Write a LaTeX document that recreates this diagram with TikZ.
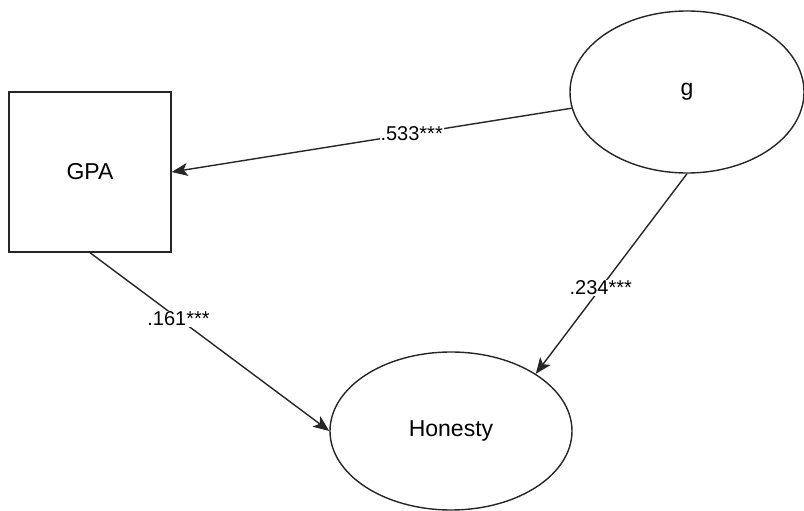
\documentclass[tikz,border=0pt]{standalone}
\usepackage{fontspec}
\setmainfont{Liberation Sans}
\usetikzlibrary{shapes.geometric,arrows.meta}
\tikzset{
  box/.style={draw=black!85, line width=1.4pt, minimum width=162pt, minimum height=160pt, inner sep=0pt, font=\fontsize{23}{26}\selectfont},
  oval/.style={draw=black!85, line width=1.4pt, ellipse, inner sep=0pt, font=\fontsize{23}{26}\selectfont},
  conn/.style={draw=black!85, line width=1.4pt, -{Stealth[length=16pt,width=13pt,inset=4pt]}},
  lbl/.style={fill=white, inner sep=1pt, font=\fontsize{20}{23}\selectfont},
}
\begin{document}
\begin{tikzpicture}[x=1pt,y=-1pt]
\useasboundingbox (0,0) rectangle (804,511);
\node[box] (gpa) at (90,172) {GPA};
\node[oval, minimum width=234pt, minimum height=162pt] (g) at (687,92) {g};
\node[oval, minimum width=242pt, minimum height=158pt] (hon) at (451,431) {Honesty};
\draw[conn] (g.188) -- node[lbl, pos=0.4] {.533***} (gpa.east);
\draw[conn] (gpa.south) -- node[lbl, pos=0.37] {.161***} (hon.west);
\draw[conn] (g.south) -- node[lbl, pos=0.57] {.234***} (hon.34);
\end{tikzpicture}
\end{document}
